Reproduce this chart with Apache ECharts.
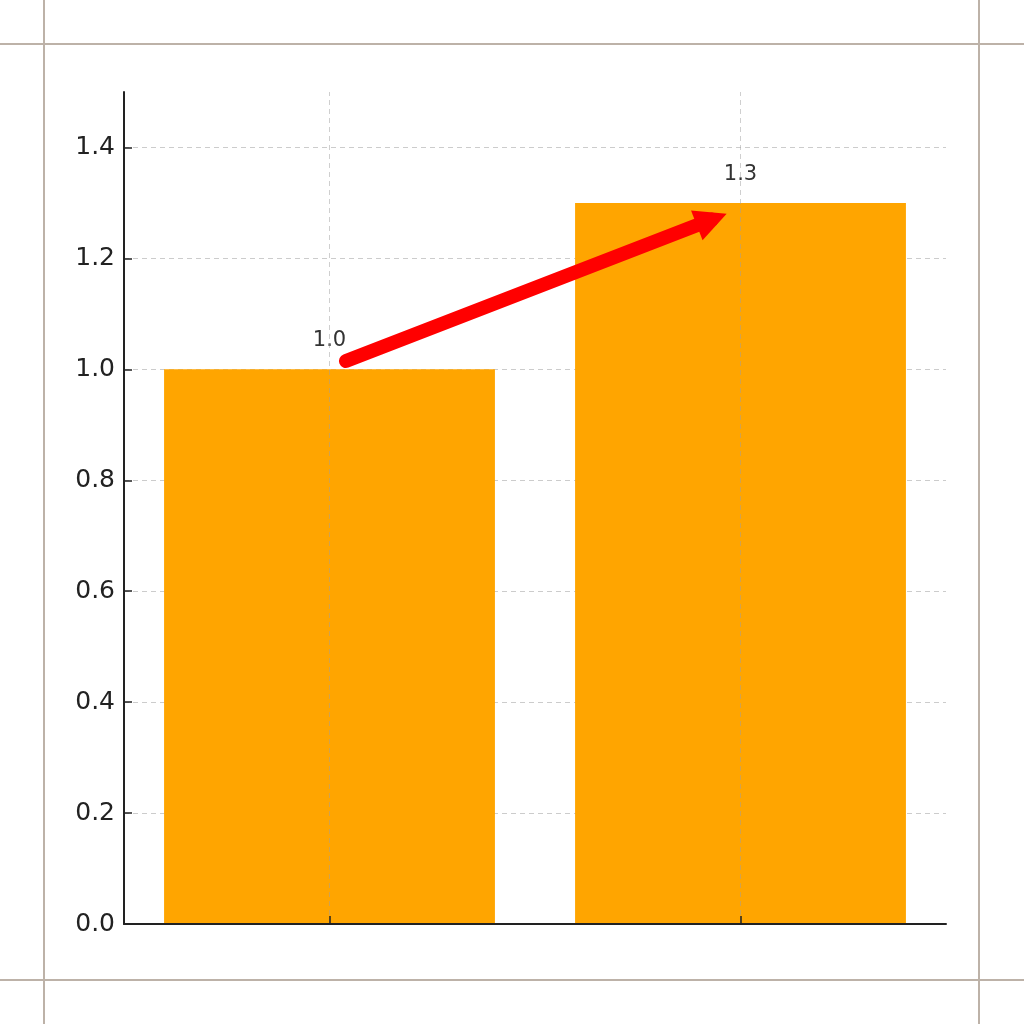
<!DOCTYPE html>
<html>
<head>
<meta charset="utf-8">
<title>Bar comparison</title>
<script src="https://cdn.jsdelivr.net/npm/echarts@6/dist/echarts.min.js"></script>
<style>
  html, body { margin: 0; padding: 0; background: #fff; }
  #main { width: 1024px; height: 1024px; }
</style>
</head>
<body>
<div id="main"></div>
<script>
// data
var categories = ['A', 'B'];
var values = [1.0, 1.3];
var yTicks = [0, 0.2, 0.4, 0.6, 0.8, 1.0, 1.2, 1.4];
// arrow from bar 1 to bar 2 (x in category index units)
var arrowFrom = [0.04, 1.015];
var arrowTo = [0.93, 1.27];

var chart = echarts.init(document.getElementById('main'));

var frameColor = '#bdb2a8';

var option = {
  backgroundColor: '#ffffff',
  animation: false,
  textStyle: { fontFamily: 'DejaVu Sans' },
  graphic: [
    { type: 'line', shape: { x1: 44, y1: 0, x2: 44, y2: 1024 }, style: { stroke: frameColor, lineWidth: 2 } },
    { type: 'line', shape: { x1: 979, y1: 0, x2: 979, y2: 1024 }, style: { stroke: frameColor, lineWidth: 2 } },
    { type: 'line', shape: { x1: 0, y1: 44, x2: 1024, y2: 44 }, style: { stroke: frameColor, lineWidth: 2 } },
    { type: 'line', shape: { x1: 0, y1: 980, x2: 1024, y2: 980 }, style: { stroke: frameColor, lineWidth: 2 } }
  ],
  grid: { left: 124, right: 78, top: 92, bottom: 100 },
  xAxis: [
    {
      type: 'category',
      data: categories,
      z: 10,
      axisLine: { lineStyle: { color: '#222', width: 2 } },
      axisTick: { show: true, interval: 0, inside: true, length: 8, alignWithLabel: true, lineStyle: { color: '#222', width: 1.5 } },
      axisLabel: { show: false },
      splitLine: { show: false }
    },
    {
      type: 'value',
      min: -0.5,
      max: 1.5,
      show: false
    }
  ],
  yAxis: {
    type: 'value',
    min: 0,
    max: 1.5,
    interval: 0.2,
    axisLine: { show: true, onZero: false, lineStyle: { color: '#222', width: 2 } },
    axisTick: { show: true, inside: true, length: 8, customValues: yTicks, lineStyle: { color: '#222', width: 1.5 } },
    axisLabel: {
      customValues: yTicks,
      fontSize: 25,
      color: '#222',
      margin: 9,
      formatter: function (v) { return v.toFixed(1); }
    },
    splitLine: { show: true, lineStyle: { type: [5, 4], color: '#cccccc', width: 1 } }
  },
  series: [
    {
      type: 'bar',
      data: values,
      barWidth: '80.5%',
      itemStyle: { color: '#ffa500' },
      label: {
        show: true,
        position: 'top',
        distance: 18,
        fontSize: 21,
        color: '#333',
        formatter: function (p) { return p.value.toFixed(1); }
      },
      markLine: {
        silent: true,
        symbol: ['none', 'none'],
        label: { show: false },
        lineStyle: { type: [5, 4], color: 'rgba(160,160,160,0.5)', width: 1 },
        data: categories.map(function (c) { return { xAxis: c }; })
      }
    },
    {
      type: 'lines',
      coordinateSystem: 'cartesian2d',
      xAxisIndex: 1,
      yAxisIndex: 0,
      symbol: ['none', 'triangle'],
      symbolSize: [36, 32],
      lineStyle: { color: '#ff0000', width: 14, opacity: 1, cap: 'round' },
      itemStyle: { color: '#ff0000' },
      z: 5,
      data: [{ coords: [arrowFrom, arrowTo] }]
    }
  ]
};

chart.setOption(option);
</script>
</body>
</html>
